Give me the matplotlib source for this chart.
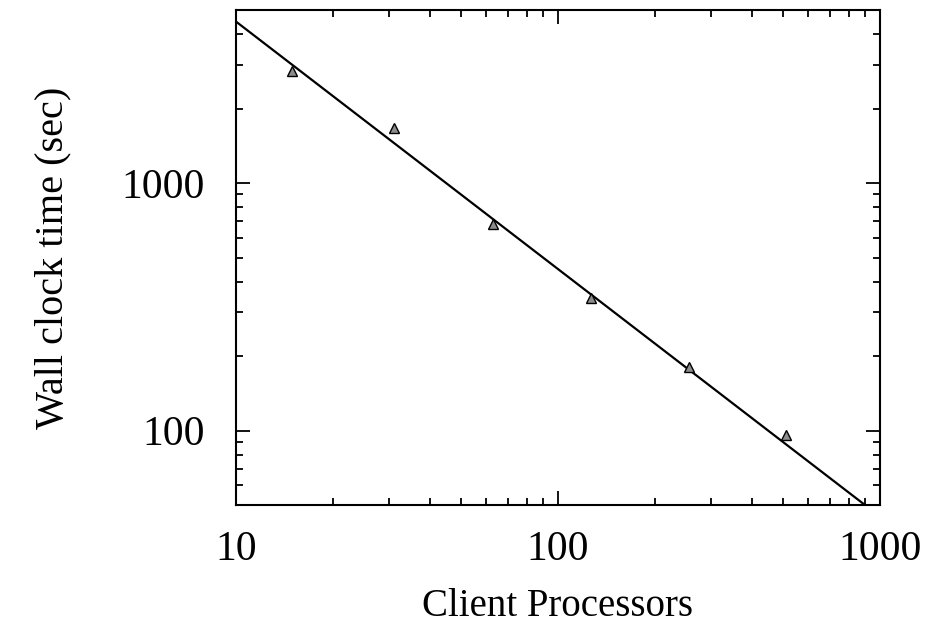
import numpy as np
import matplotlib
matplotlib.use('Agg')
import matplotlib.pyplot as plt
from matplotlib.ticker import LogLocator, NullFormatter, FixedLocator

# %% Data
# Measured wall clock time vs number of client processors
processors = [15, 31, 63, 127, 255, 511]
wall_time = [2840, 1675, 681, 343, 180, 96]

# Fitted line (end points)
fit_x = [10, 1000]
fit_y = [4500, 45]

plt.rcParams['font.family'] = ['Liberation Serif', 'DejaVu Serif']

fig = plt.figure(figsize=(9.43, 6.29), dpi=100)
ax = fig.add_axes([0.250, 0.197, 0.683, 0.787])

ax.plot(fit_x, fit_y, color='black', linewidth=1.6)
ax.plot(processors, wall_time, linestyle='none', marker='^', markersize=7,
        markerfacecolor='#8c8c8c', markeredgecolor='black', markeredgewidth=1.0)

ax.set_xscale('log')
ax.set_yscale('log')
ax.set_xlim(10, 1000)
ax.set_ylim(50, 5000)

ax.xaxis.set_major_locator(FixedLocator([10, 100, 1000]))
ax.yaxis.set_major_locator(FixedLocator([100, 1000]))
ax.xaxis.set_major_formatter(plt.FuncFormatter(lambda v, p: f'{v:.0f}'))
ax.yaxis.set_major_formatter(plt.FuncFormatter(lambda v, p: f'{v:.0f}'))
ax.xaxis.set_minor_locator(LogLocator(base=10, subs=np.arange(2, 10)))
ax.yaxis.set_minor_locator(LogLocator(base=10, subs=np.arange(2, 10)))
ax.xaxis.set_minor_formatter(NullFormatter())
ax.yaxis.set_minor_formatter(NullFormatter())

ax.tick_params(which='both', direction='in', top=True, right=True, width=1.3)
ax.tick_params(which='major', length=10)
ax.tick_params(which='minor', length=5)
ax.tick_params(axis='x', which='major', labelsize=30, pad=18)
ax.tick_params(axis='y', which='major', labelsize=30, pad=22)

for s in ax.spines.values():
    s.set_linewidth(1.5)

ax.set_xlabel('Client Processors', fontsize=28, labelpad=14)
ax.set_ylabel('Wall clock time (sec)', fontsize=29, labelpad=36)

fig.savefig('out.png', dpi=100)
